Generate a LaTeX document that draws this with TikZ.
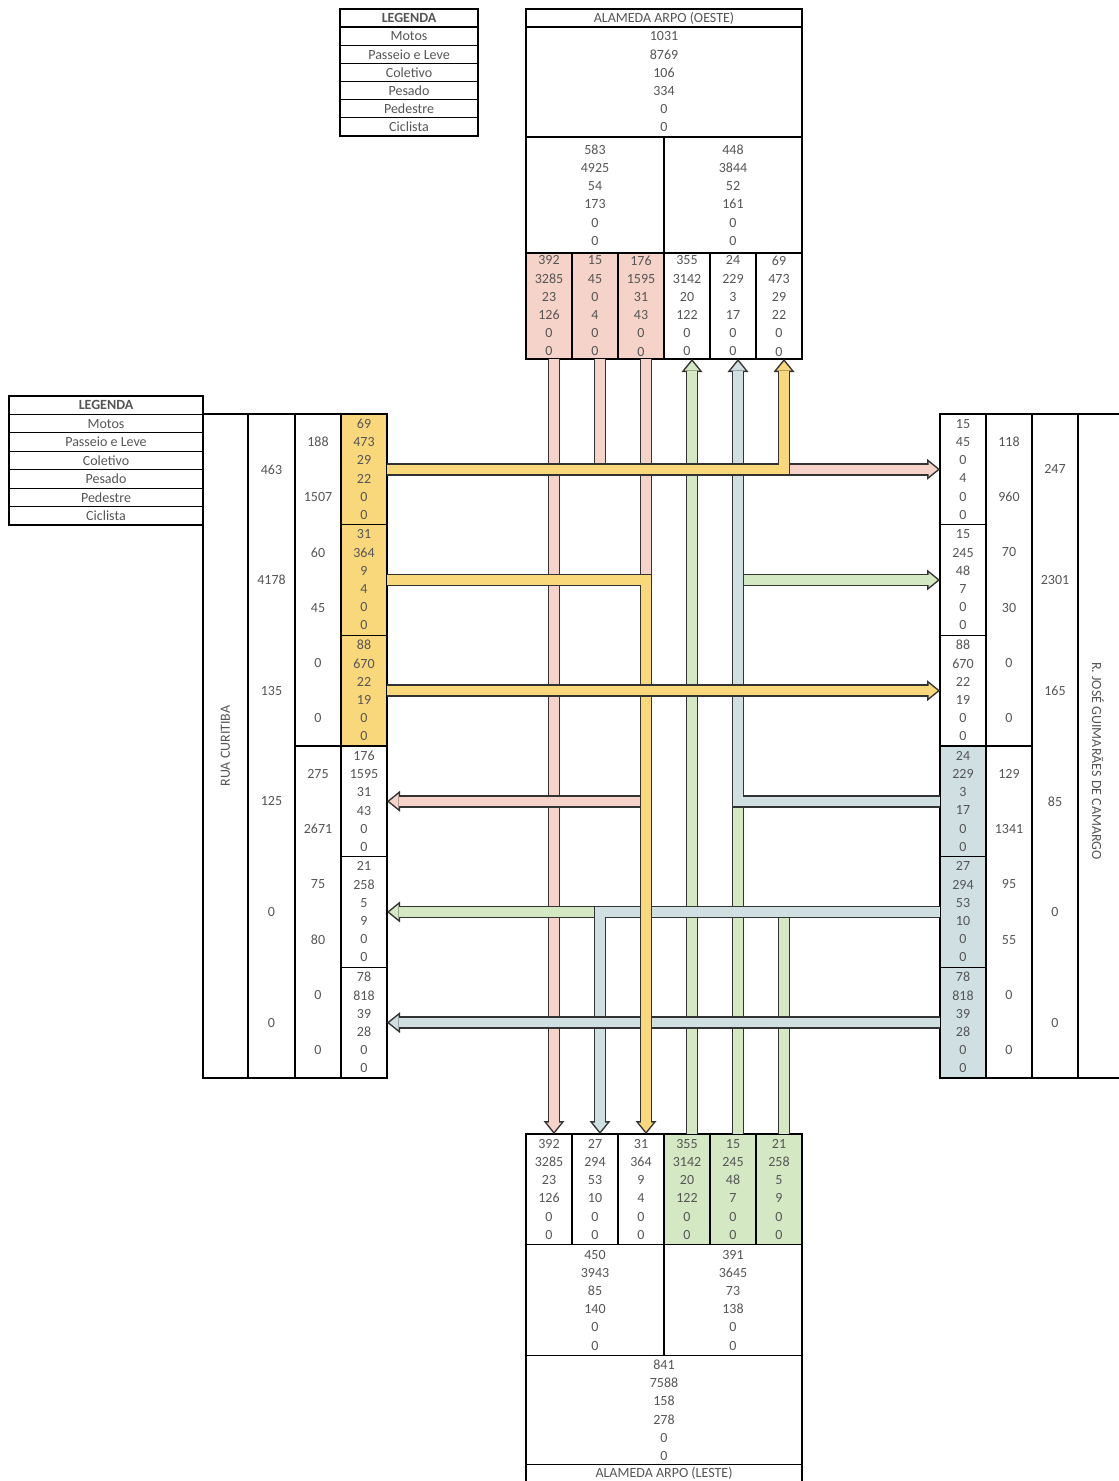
\documentclass[tikz,border=0pt]{standalone}
\usepackage{fontspec}
\setmainfont{Carlito}
\usepackage{xcolor}
\usepackage{tikz}
\usetikzlibrary{arrows.meta, positioning}

\definecolor{pinkC}{HTML}{F6D3C9}
\definecolor{yellowC}{HTML}{F9D87C}
\definecolor{blueC}{HTML}{D0DFE2}
\definecolor{greenC}{HTML}{D5E8C4}
\definecolor{lineC}{HTML}{333333}
\definecolor{txtC}{HTML}{555555}

\begin{document}
\begin{tikzpicture}[
    x=0.5pt, y=-0.5pt,
    box/.style={draw=black, line width=0.6pt, rectangle, inner sep=0pt, outer sep=0pt, align=center, text=txtC, font=\fontsize{7}{9.1}\selectfont},
    cell/.style={box, minimum width=23pt, minimum height=55.33pt},
    topcell/.style={box, minimum width=23pt, minimum height=53pt},
    half/.style={box, minimum width=69pt},
    wide/.style={box, minimum width=138pt},
    legTop/.style={box, minimum width=69pt, minimum height=9.07pt},
    legLeft/.style={box, minimum width=97pt, minimum height=9.22pt},
    val/.style={inner sep=0pt, text=txtC, font=\fontsize{7}{9.1}\selectfont},
    flow/.style={preaction={draw=lineC, line width=6.2pt, shorten >=0pt, -{Triangle[length=6.5pt, width=10.5pt, line width=0pt]}},
        draw=#1, line width=4.7pt, shorten >=1.19pt, -{Triangle[length=4.56pt, width=7.37pt, line width=0pt]}}
]
    \useasboundingbox (0,0) rectangle (1118,1481);

    % Legends
    \node[legTop] (tl0) at (409,18) {\bfseries LEGENDA};
    \node[legTop, below=0pt of tl0] (tl1) {Motos};
    \node[legTop, below=0pt of tl1] (tl2) {Passeio e Leve};
    \node[legTop, below=0pt of tl2] (tl3) {Coletivo};
    \node[legTop, below=0pt of tl3] (tl4) {Pesado};
    \node[legTop, below=0pt of tl4] (tl5) {Pedestre};
    \node[legTop, below=0pt of tl5] (tl6) {Ciclista};

    \node[legLeft] (ll0) at (106,405.2) {\bfseries LEGENDA};
    \node[legLeft, below=0pt of ll0] (ll1) {Motos};
    \node[legLeft, below=0pt of ll1] (ll2) {Passeio e Leve};
    \node[legLeft, below=0pt of ll2] (ll3) {Coletivo};
    \node[legLeft, below=0pt of ll3] (ll4) {Pesado};
    \node[legLeft, below=0pt of ll4] (ll5) {Pedestre};
    \node[legLeft, below=0pt of ll5] (ll6) {Ciclista};

    % Alameda Arpo (Oeste)
    \node[wide, minimum height=9pt] (oeste) at (664,18) {ALAMEDA ARPO (OESTE)};
    \node[wide, minimum height=55pt, below=0pt of oeste] (oesteT) {1031\\8769\\106\\334\\0\\0};
    \node[half, minimum height=58pt, anchor=north west] (oesteL) at (oesteT.south west) {583\\4925\\54\\173\\0\\0};
    \node[half, minimum height=58pt, right=0pt of oesteL] (oesteR) {448\\3844\\52\\161\\0\\0};
    \node[topcell, fill=pinkC, anchor=north west] (tc1) at (oesteL.south west) {392\\3285\\23\\126\\0\\0};
    \node[topcell, fill=pinkC, right=0pt of tc1] (tc2) {15\\45\\0\\4\\0\\0};
    \node[topcell, fill=pinkC, right=0pt of tc2] (tc3) {176\\1595\\31\\43\\0\\0};
    \node[topcell, right=0pt of tc3] (tc4) {355\\3142\\20\\122\\0\\0};
    \node[topcell, right=0pt of tc4] (tc5) {24\\229\\3\\17\\0\\0};
    \node[topcell, right=0pt of tc5] (tc6) {69\\473\\29\\22\\0\\0};

    % Alameda Arpo (Leste)
    \node[cell, anchor=north west] (bc1) at (526,1134) {392\\3285\\23\\126\\0\\0};
    \node[cell, right=0pt of bc1] (bc2) {27\\294\\53\\10\\0\\0};
    \node[cell, right=0pt of bc2] (bc3) {31\\364\\9\\4\\0\\0};
    \node[cell, fill=greenC, right=0pt of bc3] (bc4) {355\\3142\\20\\122\\0\\0};
    \node[cell, fill=greenC, right=0pt of bc4] (bc5) {15\\245\\48\\7\\0\\0};
    \node[cell, fill=greenC, right=0pt of bc5] (bc6) {21\\258\\5\\9\\0\\0};
    \node[half, minimum height=55.5pt, anchor=north west] (lesteL) at (bc1.south west) {450\\3943\\85\\140\\0\\0};
    \node[half, minimum height=55.5pt, right=0pt of lesteL] (lesteR) {391\\3645\\73\\138\\0\\0};
    \node[wide, minimum height=54.5pt, anchor=north west] (lesteT) at (lesteL.south west) {841\\7588\\158\\278\\0\\0};
    \node[wide, minimum height=9pt, below=0pt of lesteT] (leste) {ALAMEDA ARPO (LESTE)};

    % Rua Curitiba
    \node[box, rotate=90, minimum width=332pt, minimum height=22.5pt] (rua) at (225.5,746) {RUA CURITIBA};
    \node[box, minimum width=23.5pt, minimum height=332pt, anchor=north west] (ruaA) at (248,414) {};
    \node[box, minimum width=23pt, minimum height=166pt, anchor=north west] (ruaB1) at (295,414) {};
    \node[box, minimum width=23pt, minimum height=166pt, below=0pt of ruaB1] (ruaB2) {};
    \node[cell, fill=yellowC, anchor=north west] (lb1) at (341,414) {69\\473\\29\\22\\0\\0};
    \node[cell, fill=yellowC, below=0pt of lb1] (lb2) {31\\364\\9\\4\\0\\0};
    \node[cell, fill=yellowC, below=0pt of lb2] (lb3) {88\\670\\22\\19\\0\\0};
    \node[cell, below=0pt of lb3] (lb4) {176\\1595\\31\\43\\0\\0};
    \node[cell, below=0pt of lb4] (lb5) {21\\258\\5\\9\\0\\0};
    \node[cell, below=0pt of lb5] (lb6) {78\\818\\39\\28\\0\\0};

    \node[val] (ruaA1) at (ruaA |- lb1) {463};
    \node[val] (ruaA2) at (ruaA |- lb2) {4178};
    \node[val] (ruaA3) at (ruaA |- lb3) {135};
    \node[val] (ruaA4) at (ruaA |- lb4) {125};
    \node[val] (ruaA5) at (ruaA |- lb5) {0};
    \node[val] (ruaA6) at (ruaA |- lb6) {0};
    \node[val] (ruaB1a) at ([yshift=13.83pt]ruaB1 |- lb1) {188};
    \node[val] (ruaB1b) at ([yshift=-13.83pt]ruaB1 |- lb1) {1507};
    \node[val] (ruaB2a) at ([yshift=13.83pt]ruaB1 |- lb2) {60};
    \node[val] (ruaB2b) at ([yshift=-13.83pt]ruaB1 |- lb2) {45};
    \node[val] (ruaB3a) at ([yshift=13.83pt]ruaB1 |- lb3) {0};
    \node[val] (ruaB3b) at ([yshift=-13.83pt]ruaB1 |- lb3) {0};
    \node[val] (ruaB4a) at ([yshift=13.83pt]ruaB1 |- lb4) {275};
    \node[val] (ruaB4b) at ([yshift=-13.83pt]ruaB1 |- lb4) {2671};
    \node[val] (ruaB5a) at ([yshift=13.83pt]ruaB1 |- lb5) {75};
    \node[val] (ruaB5b) at ([yshift=-13.83pt]ruaB1 |- lb5) {80};
    \node[val] (ruaB6a) at ([yshift=13.83pt]ruaB1 |- lb6) {0};
    \node[val] (ruaB6b) at ([yshift=-13.83pt]ruaB1 |- lb6) {0};

    % R. Jose Guimaraes de Camargo
    \node[cell, anchor=north west] (rb1) at (940,414) {15\\45\\0\\4\\0\\0};
    \node[cell, below=0pt of rb1] (rb2) {15\\245\\48\\7\\0\\0};
    \node[cell, below=0pt of rb2] (rb3) {88\\670\\22\\19\\0\\0};
    \node[cell, fill=blueC, below=0pt of rb3] (rb4) {24\\229\\3\\17\\0\\0};
    \node[cell, fill=blueC, below=0pt of rb4] (rb5) {27\\294\\53\\10\\0\\0};
    \node[cell, fill=blueC, below=0pt of rb5] (rb6) {78\\818\\39\\28\\0\\0};
    \node[box, minimum width=23pt, minimum height=166pt, anchor=north west] (joseB1) at (986,414) {};
    \node[box, minimum width=23pt, minimum height=166pt, below=0pt of joseB1] (joseB2) {};
    \node[box, minimum width=23pt, minimum height=332pt, anchor=north west] (joseA) at (1032,414) {};
    \node[box, minimum width=22pt, minimum height=332pt, anchor=north west] (jose) at (1078,414) {};
    \node[val, rotate=-90] (joseName) at (1098,761) {R. JOSÉ GUIMARÃES DE CAMARGO};

    \node[val] (joseB1a) at ([yshift=13.83pt]joseB1 |- rb1) {118};
    \node[val] (joseB1b) at ([yshift=-13.83pt]joseB1 |- rb1) {960};
    \node[val] (joseB2a) at ([yshift=13.83pt]joseB1 |- rb2) {70};
    \node[val] (joseB2b) at ([yshift=-13.83pt]joseB1 |- rb2) {30};
    \node[val] (joseB3a) at ([yshift=13.83pt]joseB1 |- rb3) {0};
    \node[val] (joseB3b) at ([yshift=-13.83pt]joseB1 |- rb3) {0};
    \node[val] (joseB4a) at ([yshift=13.83pt]joseB1 |- rb4) {129};
    \node[val] (joseB4b) at ([yshift=-13.83pt]joseB1 |- rb4) {1341};
    \node[val] (joseB5a) at ([yshift=13.83pt]joseB1 |- rb5) {95};
    \node[val] (joseB5b) at ([yshift=-13.83pt]joseB1 |- rb5) {55};
    \node[val] (joseB6a) at ([yshift=13.83pt]joseB1 |- rb6) {0};
    \node[val] (joseB6b) at ([yshift=-13.83pt]joseB1 |- rb6) {0};
    \node[val] (joseA1) at (joseA |- rb1) {247};
    \node[val] (joseA2) at (joseA |- rb2) {2301};
    \node[val] (joseA3) at (joseA |- rb3) {165};
    \node[val] (joseA4) at (joseA |- rb4) {85};
    \node[val] (joseA5) at (joseA |- rb5) {0};
    \node[val] (joseA6) at (joseA |- rb6) {0};

    % Connections
    \draw[flow=pinkC] ([xshift=2.5pt]tc1.south) -- ([xshift=2.5pt]bc1.north);
    \draw[flow=pinkC] ([xshift=2.5pt]tc2.south) |- (rb1.west);
    \draw[flow=pinkC] ([xshift=2.5pt]tc3.south) |- (lb4.east);

    \draw[flow=greenC] ([xshift=2.5pt]bc4.north) -- ([xshift=2.5pt]tc4.south);
    \draw[flow=greenC] ([xshift=2.5pt]bc5.north) |- (rb2.west);
    \draw[flow=greenC] ([xshift=2.5pt]bc6.north) |- (lb5.east);

    \draw[flow=blueC] (rb4.west) -| ([xshift=2.5pt]tc5.south);
    \draw[flow=blueC] (rb5.west) -| ([xshift=2.5pt]bc2.north);
    \draw[flow=blueC] (rb6.west) -- (lb6.east);

    \draw[flow=yellowC] (lb1.east) -| ([xshift=2.5pt]tc6.south);
    \draw[flow=yellowC] (lb2.east) -| ([xshift=2.5pt]bc3.north);
    \draw[flow=yellowC] (lb3.east) -- (rb3.west);

\end{tikzpicture}
\end{document}
